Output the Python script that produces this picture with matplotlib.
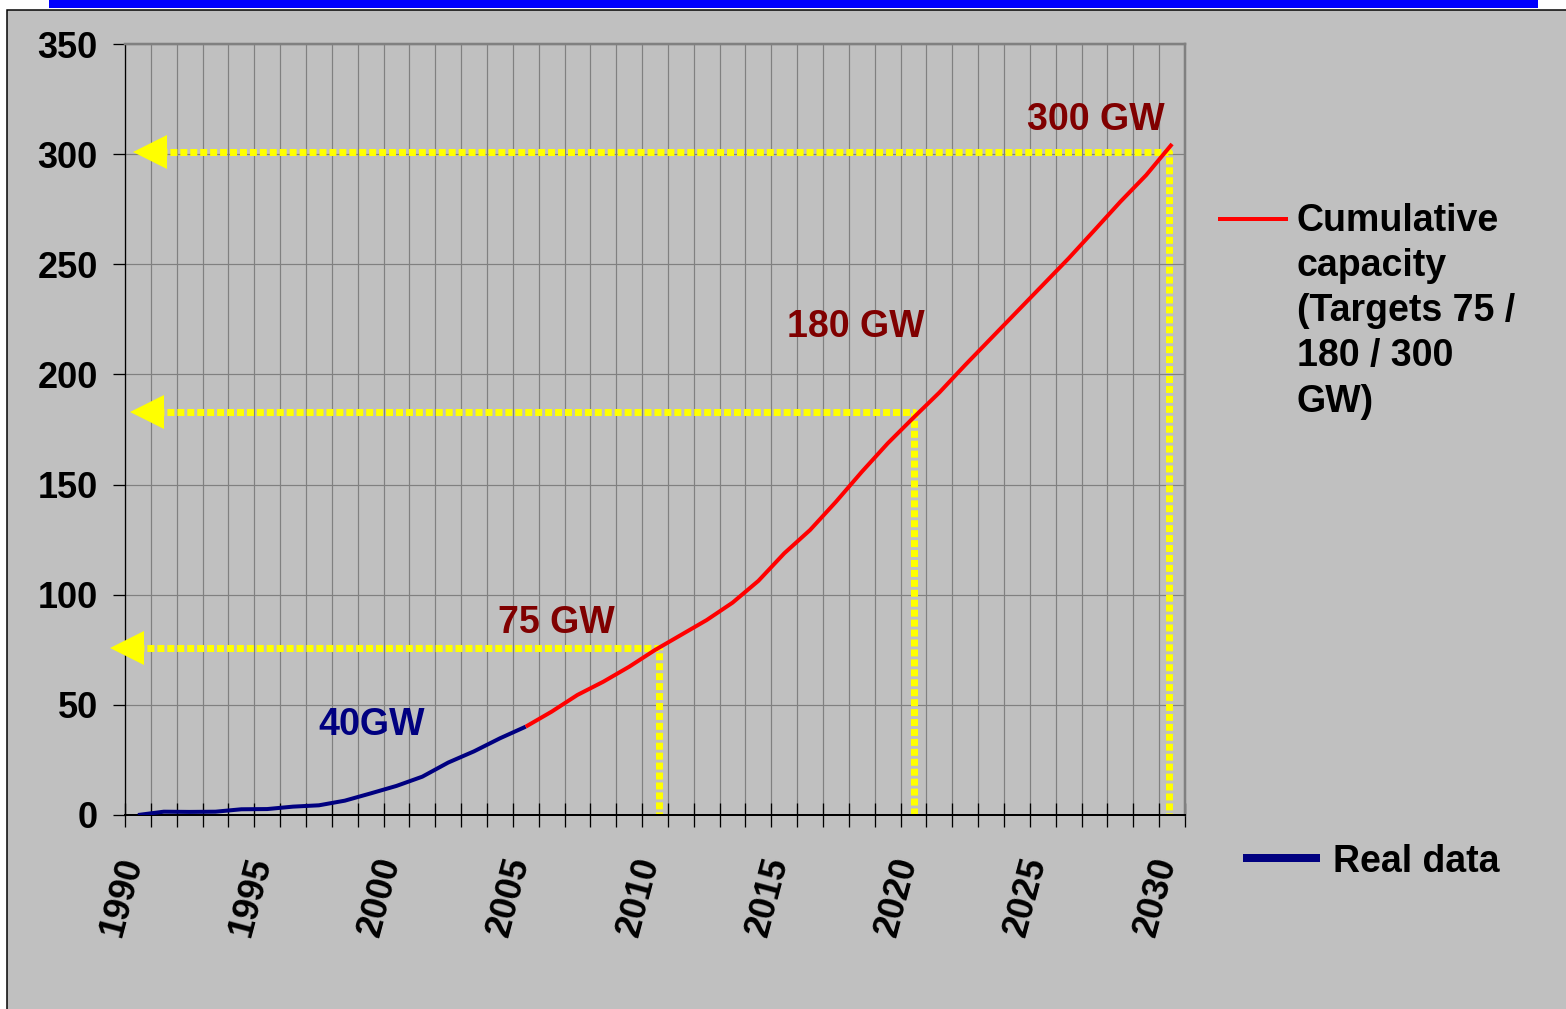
import matplotlib
matplotlib.use("Agg")
import matplotlib.pyplot as plt
from matplotlib.patches import Rectangle
from matplotlib.lines import Line2D
from matplotlib.transforms import ScaledTranslation
from matplotlib.ticker import FixedLocator

# ---------------- data ----------------
years = list(range(1990, 2031))
real_years = list(range(1990, 2006))
real_values = [0, 1.5, 1.4, 1.5, 2.6, 2.7, 3.8, 4.4, 6.5, 9.8, 13.2, 17.4,
               23.8, 28.9, 34.8, 40.1]
proj_years = list(range(2005, 2031))
proj_values = [40.1, 46.9, 54.5, 60.5, 67.3, 74.9, 81.7, 88.5, 96.4, 106.3,
               118.8, 129.4, 142.2, 155.8, 168.7, 180.4, 191.8, 204.3, 216.4,
               228.5, 240.6, 252.7, 265.5, 278.4, 290.5, 304.6]
target_years = [2010, 2020, 2030]
target_levels = [76, 183, 301]
target_labels = ["75 GW", "180 GW", "300 GW"]
real_label = "40GW"
yticks = [0, 50, 100, 150, 200, 250, 300, 350]
label_years = [1990, 1995, 2000, 2005, 2010, 2015, 2020, 2025, 2030]
legend_proj = "Cumulative\ncapacity\n(Targets 75 /\n180 / 300\nGW)"
legend_real = "Real data"

# ---------------- style ----------------
W, H = 1566, 1009
DPI = 100
PX = 72.0 / DPI  # points per pixel
FONT = "Liberation Sans"
plt.rcParams['font.family'] = [FONT, 'DejaVu Sans']
plt.rcParams['font.weight'] = 'bold'

fig = plt.figure(figsize=(W / DPI, H / DPI), dpi=DPI, facecolor='white')

def fx(px):
    return px / W

def fy(py):
    return 1 - py / H

# outer slide frame and blue bar
fig.patches.append(Rectangle((fx(7), -0.01), 1.02, fy(10) + 0.01, transform=fig.transFigure,
                             facecolor='#C0C0C0', edgecolor='black', linewidth=1.5 * PX, zorder=-5))
fig.patches.append(Rectangle((fx(49), fy(8)), fx(1538) - fx(49), 1 - fy(8), transform=fig.transFigure,
                             facecolor='#0000FF', edgecolor='none', zorder=-4))

ax = fig.add_axes([fx(125), fy(815), fx(1185) - fx(125), fy(44) - fy(815)])
ax.set_zorder(1)
ax.set_facecolor('#C0C0C0')

idx = {y: i for i, y in enumerate(years)}
n = len(years)
ax.set_xlim(-0.5, n - 0.5)
ax.set_ylim(0, 350)

# grid
ax.set_axisbelow(True)
ax.xaxis.set_minor_locator(FixedLocator([i - 0.5 for i in range(n + 1)]))
ax.xaxis.set_major_locator(FixedLocator([idx[y] for y in label_years]))
ax.set_xticklabels([str(y) for y in label_years])
ax.set_yticks(yticks)
ax.set_yticklabels([str(v) for v in yticks])
ax.grid(True, which='minor', axis='x', color='#808080', linewidth=1.2 * PX)
ax.grid(True, which='major', axis='y', color='#808080', linewidth=1.2 * PX)
ax.grid(False, which='major', axis='x')

ax.tick_params(axis='x', which='minor', direction='inout', length=24 * PX, width=1.3 * PX, color='black')
ax.tick_params(axis='x', which='major', length=0, pad=31, labelsize=26)
ax.tick_params(axis='y', which='major', direction='out', length=12 * PX, width=1.3 * PX,
               color='black', pad=11, labelsize=26)
for lab in ax.get_xticklabels():
    lab.set_rotation(75)
    lab.set_rotation_mode('anchor')
    lab.set_ha('right')
    lab.set_va('center')
    lab.set_fontweight('bold')
    lab.set_transform(lab.get_transform() + ScaledTranslation(-6 / DPI, 0, fig.dpi_scale_trans))
for lab in ax.get_yticklabels():
    lab.set_fontweight('bold')

for s in ['top', 'right']:
    ax.spines[s].set_color('#808080')
    ax.spines[s].set_linewidth(2.5 * PX)
ax.spines['left'].set_color('black')
ax.spines['left'].set_linewidth(1.3 * PX)
ax.spines['bottom'].set_color('black')
ax.spines['bottom'].set_linewidth(2 * PX)

# target guide lines (yellow dotted with left arrowheads)
arrow_tips = [-1.08, -0.31, -0.19]
guide_shift = [0.15, 0.0, -0.1]
head = 34  # px
for ty, lvl, tip, sh in zip(target_years, target_levels, arrow_tips, guide_shift):
    xc = tip + (head / 2) / 25.85
    xv = idx[ty] + sh
    ax.plot([xc, xv, xv], [lvl, lvl, 0], color='#FFFF00', linewidth=7 * PX,
            dashes=(1.0, 0.42), dash_capstyle='butt', solid_joinstyle='miter',
            zorder=2, clip_on=False)
    ax.plot([xc], [lvl], marker='<', markersize=head * PX, color='#FFFF00',
            markeredgewidth=0, zorder=3, clip_on=False)

# data lines
ax.plot([idx[y] for y in real_years], real_values, color='#000080', linewidth=4 * PX,
        zorder=4, solid_capstyle='butt')
ax.plot([idx[y] for y in proj_years], proj_values, color='#FF0000', linewidth=4 * PX,
        zorder=4, solid_capstyle='butt')

# annotations
label_pos = [(13.93, 82.6), (25.11, 217.0), (34.39, 311.0)]
for (x, y), t in zip(label_pos, target_labels):
    ax.text(x, y, t, color='#800000', fontsize=27, fontweight='bold', ha='left', va='baseline', zorder=5)
ax.text(6.97, 36.3, real_label, color='#000080', fontsize=27, fontweight='bold',
        ha='left', va='baseline', zorder=5)

# legend entries
fig.add_artist(Line2D([fx(1218), fx(1288)], [fy(219), fy(219)], transform=fig.transFigure,
                      color='#FF0000', linewidth=4 * PX, solid_capstyle='butt'))
fig.text(fx(1297), fy(411.7), legend_proj, fontsize=27, fontweight='bold', color='black',
         ha='left', va='baseline', linespacing=1.33)
fig.add_artist(Line2D([fx(1243), fx(1320)], [fy(858), fy(858)], transform=fig.transFigure,
                      color='#000080', linewidth=8 * PX, solid_capstyle='butt'))
fig.text(fx(1333), fy(872), legend_real, fontsize=27, fontweight='bold', color='black',
         ha='left', va='baseline')

fig.savefig("out.png", dpi=DPI, facecolor=fig.get_facecolor())
